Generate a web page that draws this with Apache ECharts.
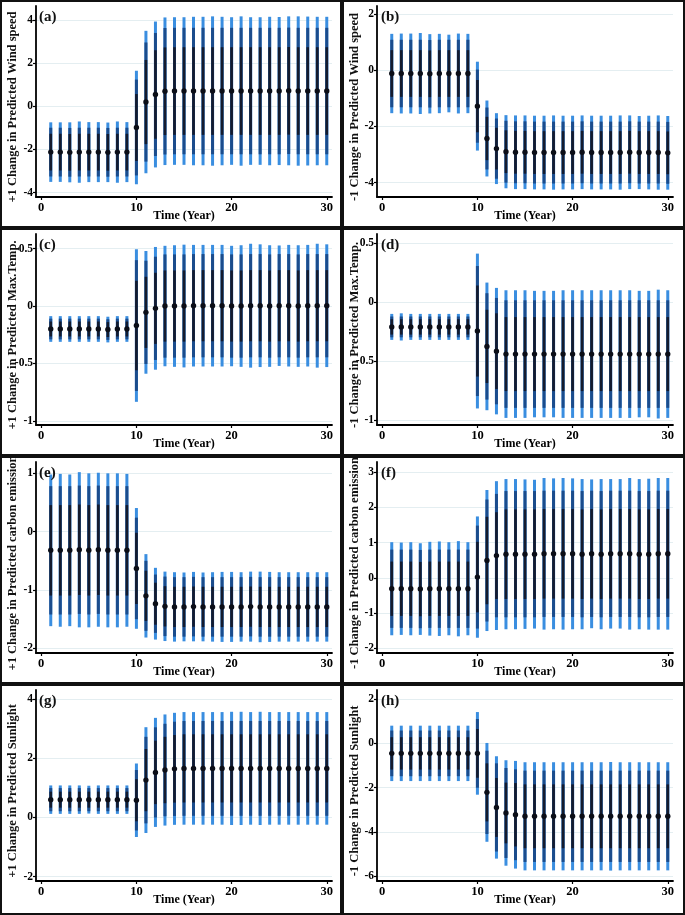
<!DOCTYPE html>
<html><head><meta charset="utf-8">
<script src="https://cdn.jsdelivr.net/npm/echarts@6/dist/echarts.min.js"></script>
<style>html,body{margin:0;padding:0;background:#fff}#c{width:685px;height:915px}</style>
</head><body><div id="c"></div>
<script>
// ---------- data ----------
const years = [1,2,3,4,5,6,7,8,9,10,11,12,13,14,15,16,17,18,19,20,21,22,23,24,25,26,27,28,29,30];
const xTicks = [0,10,20,30];

// (a) +1 Wind speed
const aEst   = [-2.12,-2.12,-2.13,-2.12,-2.12,-2.12,-2.13,-2.12,-2.12,-0.98,0.20,0.55,0.70,0.71,0.71,0.71,0.71,0.71,0.71,0.71,0.71,0.71,0.71,0.71,0.71,0.72,0.71,0.71,0.71,0.71];
const aLight = [1.38,1.38,1.39,1.42,1.39,1.39,1.38,1.42,1.39,2.63,3.30,3.38,3.42,3.42,3.42,3.44,3.44,3.46,3.44,3.42,3.46,3.42,3.42,3.44,3.43,3.45,3.46,3.45,3.44,3.44];
const aMid   = [1.13,1.13,1.13,1.13,1.13,1.13,1.13,1.13,1.13,2.22,2.76,2.85,2.93,2.93,2.93,2.93,2.93,2.93,2.93,2.93,2.93,2.93,2.93,2.93,2.93,2.93,2.93,2.93,2.93,2.93];
const aDark  = [0.85,0.85,0.85,0.85,0.85,0.85,0.85,0.85,0.85,1.55,1.95,2.05,2.03,2.03,2.03,2.03,2.03,2.03,2.03,2.03,2.03,2.03,2.03,2.03,2.03,2.03,2.03,2.03,2.03,2.03];
const aTicks = [-4,-2,0,2,4];

// (b) -1 Wind speed
const bEst   = [-0.12,-0.12,-0.12,-0.12,-0.13,-0.12,-0.12,-0.12,-0.12,-1.28,-2.43,-2.79,-2.90,-2.92,-2.92,-2.93,-2.93,-2.93,-2.93,-2.93,-2.92,-2.93,-2.93,-2.93,-2.93,-2.92,-2.93,-2.93,-2.93,-2.94];
const bLight = [1.41,1.42,1.42,1.44,1.41,1.41,1.38,1.42,1.41,1.58,1.35,1.26,1.30,1.31,1.31,1.31,1.31,1.32,1.31,1.31,1.31,1.31,1.31,1.31,1.32,1.31,1.30,1.31,1.32,1.31];
const bMid   = [1.20,1.20,1.20,1.20,1.20,1.20,1.20,1.20,1.20,1.30,1.10,1.07,1.10,1.10,1.10,1.10,1.10,1.10,1.10,1.10,1.10,1.10,1.10,1.10,1.10,1.10,1.10,1.10,1.10,1.10];
const bDark  = [0.83,0.83,0.83,0.83,0.83,0.83,0.83,0.83,0.83,0.93,0.77,0.74,0.76,0.76,0.76,0.76,0.76,0.76,0.76,0.76,0.76,0.76,0.76,0.76,0.76,0.76,0.76,0.76,0.76,0.76];
const bTicks = [-4,-2,0,2];

// (c) +1 Max.Temp.
const cEst   = [-0.20,-0.20,-0.20,-0.20,-0.20,-0.20,-0.205,-0.20,-0.20,-0.17,-0.055,-0.02,0.0,0.0,0.0,0.003,0.003,0.003,0.003,0.0,0.0,0.003,0.003,0.0,0.003,0.003,0.0,0.003,0.003,0.003];
const cLight = [0.112,0.112,0.112,0.112,0.112,0.112,0.112,0.112,0.112,0.665,0.535,0.535,0.525,0.53,0.535,0.53,0.53,0.53,0.53,0.525,0.53,0.54,0.535,0.53,0.525,0.53,0.53,0.53,0.54,0.535];
const cMid   = [0.09,0.09,0.09,0.09,0.09,0.09,0.09,0.09,0.09,0.57,0.45,0.45,0.45,0.45,0.45,0.45,0.45,0.45,0.45,0.45,0.45,0.45,0.45,0.45,0.45,0.45,0.45,0.45,0.45,0.45];
const cDark  = [0.065,0.065,0.065,0.065,0.065,0.065,0.065,0.065,0.065,0.39,0.31,0.31,0.31,0.31,0.31,0.31,0.31,0.31,0.31,0.31,0.31,0.31,0.31,0.31,0.31,0.31,0.31,0.31,0.31,0.31];
const cTicks = [-1,-0.5,0,0.5];

// (d) -1 Max.Temp.
const dEst   = [-0.21,-0.21,-0.21,-0.21,-0.21,-0.21,-0.21,-0.21,-0.21,-0.245,-0.375,-0.415,-0.44,-0.44,-0.44,-0.44,-0.44,-0.44,-0.44,-0.44,-0.44,-0.44,-0.44,-0.44,-0.44,-0.44,-0.44,-0.44,-0.44,-0.44];
const dLight = [0.11,0.115,0.11,0.11,0.11,0.11,0.11,0.11,0.11,0.655,0.54,0.535,0.54,0.54,0.54,0.535,0.535,0.535,0.54,0.54,0.54,0.54,0.54,0.54,0.54,0.54,0.535,0.535,0.545,0.54];
const dMid   = [0.088,0.088,0.088,0.088,0.088,0.088,0.088,0.088,0.088,0.55,0.45,0.45,0.455,0.455,0.455,0.455,0.455,0.455,0.455,0.455,0.455,0.455,0.455,0.455,0.455,0.455,0.455,0.455,0.455,0.455];
const dDark  = [0.065,0.065,0.065,0.065,0.065,0.065,0.065,0.065,0.065,0.385,0.31,0.32,0.313,0.313,0.313,0.313,0.313,0.313,0.313,0.313,0.313,0.313,0.313,0.313,0.313,0.313,0.313,0.313,0.313,0.313];
const dTicks = [-1,-0.5,0,0.5];

// (e) +1 carbon emission
const eEst   = [-0.32,-0.32,-0.32,-0.31,-0.32,-0.31,-0.32,-0.32,-0.32,-0.63,-1.10,-1.235,-1.28,-1.29,-1.29,-1.285,-1.29,-1.29,-1.29,-1.29,-1.29,-1.285,-1.29,-1.29,-1.29,-1.29,-1.29,-1.29,-1.29,-1.29];
const eLight = [1.30,1.31,1.30,1.33,1.32,1.32,1.32,1.32,1.31,1.035,0.715,0.615,0.595,0.595,0.59,0.595,0.59,0.595,0.60,0.60,0.595,0.60,0.605,0.60,0.595,0.595,0.595,0.595,0.595,0.595];
const eMid   = [1.10,1.10,1.10,1.10,1.10,1.10,1.10,1.10,1.10,0.87,0.60,0.50,0.51,0.51,0.51,0.51,0.51,0.51,0.51,0.51,0.51,0.51,0.51,0.51,0.51,0.51,0.51,0.51,0.51,0.51];
const eDark  = [0.775,0.775,0.775,0.775,0.775,0.775,0.775,0.775,0.775,0.61,0.43,0.36,0.345,0.345,0.345,0.345,0.345,0.345,0.345,0.345,0.345,0.345,0.345,0.345,0.345,0.345,0.345,0.345,0.345,0.345];
const eTicks = [-2,-1,0,1];

// (f) -1 carbon emission
const fEst   = [-0.31,-0.31,-0.31,-0.32,-0.31,-0.31,-0.31,-0.31,-0.31,0.02,0.49,0.63,0.67,0.67,0.67,0.67,0.68,0.68,0.68,0.68,0.67,0.68,0.67,0.68,0.68,0.68,0.67,0.67,0.68,0.68];
const fLight = [1.32,1.31,1.32,1.30,1.33,1.34,1.32,1.35,1.32,1.72,2.00,2.11,2.13,2.13,2.12,2.11,2.15,2.14,2.15,2.14,2.13,2.11,2.13,2.12,2.12,2.15,2.13,2.14,2.15,2.15];
const fMid   = [1.11,1.11,1.11,1.11,1.11,1.11,1.11,1.11,1.11,1.46,1.73,1.75,1.79,1.79,1.79,1.79,1.79,1.79,1.79,1.79,1.79,1.79,1.79,1.79,1.79,1.79,1.79,1.79,1.79,1.79];
const fDark  = [0.77,0.77,0.77,0.77,0.77,0.77,0.77,0.77,0.77,1.00,1.24,1.23,1.27,1.27,1.27,1.27,1.27,1.27,1.27,1.27,1.27,1.27,1.27,1.27,1.27,1.27,1.27,1.27,1.27,1.27];
const fTicks = [-2,-1,0,1,2,3];

// (g) +1 Sunlight
const gEst   = [0.60,0.60,0.60,0.60,0.60,0.60,0.60,0.60,0.60,0.58,1.26,1.52,1.60,1.64,1.655,1.655,1.655,1.655,1.655,1.655,1.655,1.655,1.655,1.655,1.655,1.655,1.655,1.655,1.655,1.655];
const gLight = [0.48,0.48,0.48,0.48,0.47,0.48,0.48,0.48,0.48,1.24,1.785,1.84,1.875,1.89,1.90,1.90,1.90,1.90,1.90,1.91,1.91,1.90,1.91,1.90,1.90,1.90,1.90,1.90,1.90,1.90];
const gMid   = [0.39,0.39,0.39,0.39,0.39,0.39,0.39,0.39,0.39,1.02,1.46,1.52,1.56,1.59,1.60,1.60,1.60,1.60,1.60,1.60,1.60,1.60,1.60,1.60,1.60,1.60,1.60,1.60,1.60,1.60];
const gDark  = [0.27,0.27,0.27,0.27,0.27,0.27,0.27,0.27,0.27,0.71,1.05,1.07,1.12,1.14,1.15,1.15,1.15,1.15,1.15,1.15,1.15,1.15,1.15,1.15,1.15,1.15,1.15,1.15,1.15,1.15];
const gTicks = [-2,0,2,4];

// (h) -1 Sunlight
const hEst   = [-0.45,-0.45,-0.45,-0.45,-0.45,-0.45,-0.45,-0.45,-0.45,-0.45,-2.21,-2.89,-3.14,-3.22,-3.29,-3.29,-3.29,-3.29,-3.29,-3.29,-3.29,-3.29,-3.29,-3.29,-3.29,-3.29,-3.29,-3.29,-3.29,-3.29];
const hLight = [1.25,1.25,1.25,1.25,1.25,1.25,1.25,1.25,1.25,1.865,2.23,2.31,2.38,2.43,2.44,2.44,2.44,2.44,2.44,2.44,2.44,2.44,2.44,2.45,2.44,2.44,2.44,2.44,2.44,2.44];
const hMid   = [1.03,1.03,1.03,1.03,1.03,1.03,1.03,1.03,1.03,1.55,1.88,1.99,2.03,2.05,2.06,2.06,2.06,2.06,2.06,2.06,2.06,2.06,2.06,2.06,2.06,2.06,2.06,2.06,2.06,2.06];
const hDark  = [0.73,0.73,0.73,0.73,0.73,0.73,0.73,0.73,0.73,1.10,1.31,1.33,1.37,1.43,1.44,1.44,1.44,1.44,1.44,1.44,1.44,1.44,1.44,1.44,1.44,1.44,1.44,1.44,1.44,1.44];
const hTicks = [-6,-4,-2,0,2];

const panelLabels = ['(a)','(b)','(c)','(d)','(e)','(f)','(g)','(h)'];
const yNames = [
  '+1 Change in Predicted Wind speed',
  '-1 Change in Predicted Wind speed',
  '+1 Change in Predicted Max.Temp.',
  '-1 Change in Predicted Max.Temp.',
  '+1 Change in Predicted carbon emission',
  '-1 Change in Predicted carbon emission',
  '+1 Change in Predicted Sunlight',
  '-1 Change in Predicted Sunlight'
];
const xName = 'Time (Year)';

// ---------- layout ----------
const panels = [
  {est:aEst, l:aLight, m:aMid, d:aDark, ticks:aTicks, yr:[-4.2, 4.65]},
  {est:bEst, l:bLight, m:bMid, d:bDark, ticks:bTicks, yr:[-4.51, 2.28]},
  {est:cEst, l:cLight, m:cMid, d:cDark, ticks:cTicks, yr:[-1.037, 0.628]},
  {est:dEst, l:dLight, m:dMid, d:dDark, ticks:dTicks, yr:[-1.04, 0.576]},
  {est:eEst, l:eLight, m:eMid, d:eDark, ticks:eTicks, yr:[-2.08, 1.194]},
  {est:fEst, l:fLight, m:fMid, d:fDark, ticks:fTicks, yr:[-2.133, 3.284]},
  {est:gEst, l:gLight, m:gMid, d:gDark, ticks:gTicks, yr:[-2.145, 4.30]},
  {est:hEst, l:hLight, m:hMid, d:hDark, ticks:hTicks, yr:[-6.21, 2.41]}
];
const colX = [0, 342];
const colW = [342, 343];
const rowY = [0, 228, 456, 684];
const rowH = [228, 228, 228, 231];
const gridLeftOff = [36, 35];
const FONT = '"Liberation Serif","Times New Roman",serif';
const C_LIGHT = '#3a8ee0', C_MID = '#1b4c8c', C_DARK = '#141b2e', C_PT = '#0b0e18';

const grids = [], xAxes = [], yAxes = [], series = [], graphics = [];
panels.forEach((p, i) => {
  const col = i % 2, row = Math.floor(i / 2);
  const px = colX[col], py = rowY[row];
  grids.push({left: px + gridLeftOff[col], top: py + 6, width: 296, height: 191, containLabel: false});
  xAxes.push({
    type: 'value', gridIndex: i, min: -0.55, max: 30.55,
    axisLine: {show: true, onZero: false, lineStyle: {color: '#000', width: 1.8}},
    axisTick: {show: true, length: 3, customValues: xTicks, lineStyle: {color: '#000', width: 1.2}},
    axisLabel: {customValues: xTicks, color: '#000', fontFamily: FONT, fontWeight: 'bold', fontSize: 12.5, margin: 4},
    splitLine: {show: false},
    name: xName, nameLocation: 'middle', nameGap: 13, nameMoveOverlap: false,
    nameTextStyle: {color: '#000', fontFamily: FONT, fontWeight: 'bold', fontSize: 12}
  });
  yAxes.push({
    type: 'value', gridIndex: i, min: p.yr[0], max: p.yr[1],
    axisLine: {show: true, onZero: false, lineStyle: {color: '#000', width: 1.8}},
    axisTick: {show: true, length: 3, customValues: p.ticks, lineStyle: {color: '#000', width: 1.2}},
    axisLabel: {customValues: p.ticks, color: '#000', fontFamily: FONT, fontWeight: 'bold', fontSize: 11.5, margin: 3,
      formatter: v => String(v)},
    splitLine: {show: true, lineStyle: {color: '#e4eef1', width: 1}}
  });
  const data = years.map((yr, k) => [yr, p.est[k],
    p.est[k] - p.l[k], p.est[k] + p.l[k],
    p.est[k] - p.m[k], p.est[k] + p.m[k],
    p.est[k] - p.d[k], p.est[k] + p.d[k]]);
  series.push({
    type: 'custom', xAxisIndex: i, yAxisIndex: i, data: data,
    encode: {x: 0, y: [1,2,3,4,5,6,7]},
    renderItem: function (params, api) {
      const x = api.value(0);
      const c = v => api.coord([x, v]);
      const seg = (a, b, color, w) => {
        const p1 = c(a), p2 = c(b);
        return {type: 'line', shape: {x1: p1[0], y1: p1[1], x2: p2[0], y2: p2[1]}, style: {stroke: color, lineWidth: w}};
      };
      const pt = c(api.value(1));
      return {type: 'group', children: [
        seg(api.value(2), api.value(3), C_LIGHT, 3),
        seg(api.value(4), api.value(5), C_MID, 3),
        seg(api.value(6), api.value(7), C_DARK, 2.6),
        {type: 'circle', shape: {cx: pt[0], cy: pt[1], r: 2.7}, style: {fill: C_PT}}
      ]};
    }
  });
  // panel frame
  graphics.push({type: 'rect', shape: {x: px + 1, y: py + 1, width: colW[col] - 2, height: rowH[row] - 2},
    style: {fill: null, stroke: '#111', lineWidth: 2}, z: 100});
  // panel label
  graphics.push({type: 'text', x: px + 39, y: py + 17, z: 100,
    style: {text: panelLabels[i], font: 'bold 15px ' + FONT, fill: '#111', textAlign: 'left', textVerticalAlign: 'middle'}});
  // y-axis title
  graphics.push({type: 'text', x: px + 13, y: py + 107, rotation: Math.PI / 2, z: 100,
    style: {text: yNames[i], font: 'bold 12.5px ' + FONT, fill: '#111', textAlign: 'center', textVerticalAlign: 'middle'}});
});

const chart = echarts.init(document.getElementById('c'), null, {renderer: 'canvas'});
chart.setOption({
  animation: false,
  backgroundColor: '#fff',
  grid: grids, xAxis: xAxes, yAxis: yAxes, series: series, graphic: graphics
});
</script></body></html>
